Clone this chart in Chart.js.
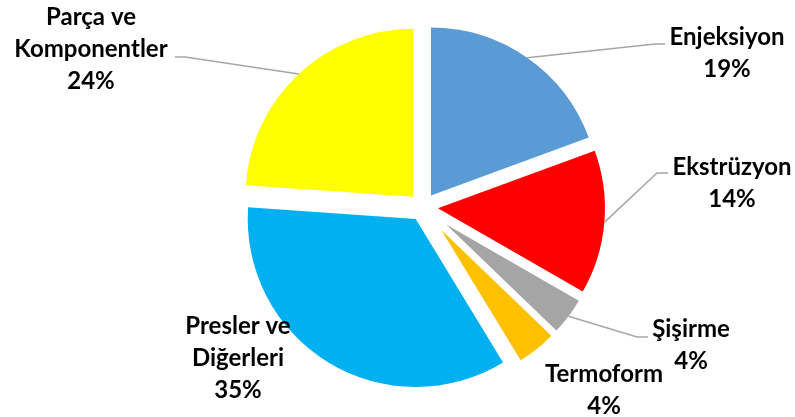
<!DOCTYPE html>
<html>
<head>
<meta charset="utf-8">
<script src="https://cdn.jsdelivr.net/npm/chart.js@4"></script>
<style>
    html, body { margin: 0; padding: 0; background: #fff; }
    #wrap { width: 795px; height: 417px; position: relative; }
</style>
</head>
<body>
<div id="wrap"><canvas id="pieChart"></canvas></div>
<script>
// categories (multi-line labels) and their shares in %
const categories = [
    ['Enjeksiyon'],
    ['Ekstrüzyon'],
    ['Şişirme'],
    ['Termoform'],
    ['Presler ve', 'Diğerleri'],
    ['Parça ve', 'Komponentler']
];
const shares = [19.4, 13.9, 3.9, 4.1, 34.8, 23.9];
const colors = ['#5B9BD5', '#FF0000', '#A5A5A5', '#FFC000', '#00B0F0', '#FFFF00'];

// each slice pushed out along its bisector, keeping the outer edge on the same circle
const explodePlugin = {
    id: 'explode',
    beforeDatasetDraw(chart, args, opts) {
        const ctx = chart.ctx;
        args.meta.data.forEach((arc, i) => {
            const d = opts.px[i] || 0;
            const mid = (arc.startAngle + arc.endAngle) / 2;
            const r = arc.outerRadius;
            ctx.save();
            ctx.translate(Math.cos(mid) * d, Math.sin(mid) * d);
            arc.outerRadius = r - d;
            arc.draw(ctx);
            arc.outerRadius = r;
            ctx.restore();
        });
        return false;
    }
};

const labelPlugin = {
    id: 'sliceLabels',
    afterDatasetsDraw(chart, args, opts) {
        const ctx = chart.ctx;
        const arcs = chart.getDatasetMeta(0).data;
        const total = shares.reduce((s, v) => s + v, 0);
        ctx.save();
        arcs.forEach((arc, i) => {
            const lay = opts.layout[i];
            if (lay.elbow) {
                const mid = (arc.startAngle + arc.endAngle) / 2;
                ctx.strokeStyle = '#A6A6A6';
                ctx.lineWidth = 1.5;
                ctx.beginPath();
                ctx.moveTo(arc.x + Math.cos(mid) * arc.outerRadius, arc.y + Math.sin(mid) * arc.outerRadius);
                ctx.lineTo(lay.elbow[0], lay.elbow[1]);
                ctx.lineTo(lay.end[0], lay.end[1]);
                ctx.stroke();
            }
            const lines = [...categories[i], Math.round(shares[i] / total * 100) + '%'];
            ctx.fillStyle = '#000';
            ctx.font = opts.font;
            ctx.textAlign = 'center';
            ctx.textBaseline = 'alphabetic';
            lines.forEach((t, k) => ctx.fillText(t, lay.x, lay.y + k * opts.lineHeight));
        });
        ctx.restore();
    }
};

function build() {
    new Chart(document.getElementById('pieChart'), {
        type: 'pie',
        data: {
            labels: categories,
            datasets: [{
                data: shares,
                backgroundColor: colors,
                borderWidth: 0,
                radius: 182
            }]
        },
        options: {
            responsive: true,
            maintainAspectRatio: false,
            animation: false,
            layout: { padding: { left: 51, right: 0, top: 0, bottom: 3 } },
            plugins: {
                legend: { display: false },
                tooltip: { enabled: false },
                explode: { px: [14, 15, 29, 29, 14, 14] },
                sliceLabels: {
                    font: 'bold 24px Lato',
                    lineHeight: 32,
                    layout: [
                        { x: 727, y: 45, elbow: [655, 44], end: [665, 44] },
                        { x: 732, y: 175, elbow: [657, 173], end: [668, 173] },
                        { x: 691, y: 337, elbow: [637, 337], end: [648, 337] },
                        { x: 604, y: 382 },
                        { x: 238, y: 334 },
                        { x: 91, y: 25, elbow: [185, 57], end: [175, 57] }
                    ]
                }
            }
        },
        plugins: [explodePlugin, labelPlugin]
    });
}

document.fonts.load('bold 24px Lato').then(build, build);
</script>
</body>
</html>
